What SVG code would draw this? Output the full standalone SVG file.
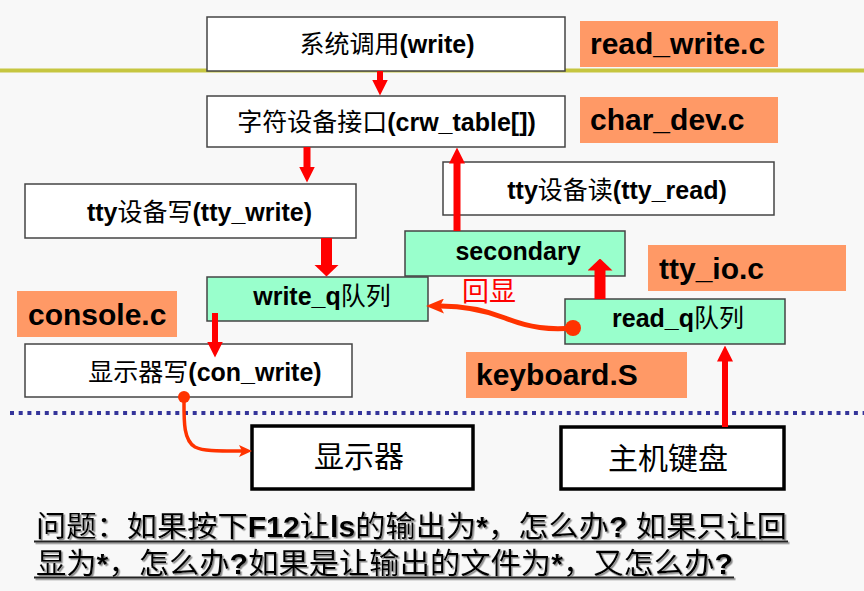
<svg xmlns="http://www.w3.org/2000/svg" width="864" height="591" viewBox="0 0 864 591">
  <style>
    .t { font-family: "Liberation Sans", "Noto Sans CJK SC", sans-serif; font-size: 25px; fill: #000; text-anchor: middle; }
    .b { font-weight: bold; }
    .big { font-size: 30px; }
    .file { font-family: "Liberation Sans", "Noto Sans CJK SC", sans-serif; font-size: 30px; font-weight: bold; fill: #000; }
    .box { fill: #fff; stroke: #444; stroke-width: 1.5; }
    .queue { fill: #99ffcc; stroke: #444; stroke-width: 1.5; }
    .dev { fill: #fff; stroke: #000; stroke-width: 3.5; }
    .tag { fill: #ff9966; }
    .red { stroke: #ff0000; fill: none; }
    .curve { stroke: #ff3300; fill: none; }
    .q { font-family: "Liberation Sans", "Noto Sans CJK SC", sans-serif; font-size: 29px; fill: #000; }
  </style>
  <defs>
    <marker id="head" markerUnits="userSpaceOnUse" viewBox="0 -8 16 16" markerWidth="16" markerHeight="16" refX="0.5" refY="0" orient="auto">
      <path d="M0,-8 L16,0 L0,8 z" fill="#ff0000"/>
    </marker>
    <marker id="head-wide" markerUnits="userSpaceOnUse" viewBox="0 -12.5 12 25" markerWidth="12" markerHeight="25" refX="0.5" refY="0" orient="auto">
      <path d="M0,-12.5 L12,0 L0,12.5 z" fill="#ff0000"/>
    </marker>
    <marker id="barb" markerUnits="userSpaceOnUse" viewBox="0 -7.5 18 15" markerWidth="18" markerHeight="15" refX="4" refY="0" orient="auto">
      <path d="M0,-7.5 L18,0 L0,7.5 L4,0 z" fill="#ff3300"/>
    </marker>
    <marker id="barb-small" markerUnits="userSpaceOnUse" viewBox="0 -6 13 12" markerWidth="13" markerHeight="12" refX="3" refY="0" orient="auto">
      <path d="M0,-6 L13,0 L0,6 L3,0 z" fill="#ff3300"/>
    </marker>
    <filter id="shadow" x="-5%" y="-30%" width="110%" height="160%">
      <feDropShadow dx="1.5" dy="1.5" stdDeviation="0.6" flood-color="#8a8a8a" flood-opacity="1"/>
    </filter>
  </defs>

  <!-- page background -->
  <rect width="864" height="591" fill="#f8f8f8"/>

  <!-- layer separators: user / kernel line and hardware boundary -->
  <line x1="0" y1="70.5" x2="864" y2="70.5" stroke="#c6c640" stroke-width="4"/>
  <line x1="10" y1="413" x2="864" y2="413" stroke="#35359a" stroke-width="4" stroke-dasharray="4 4.7"/>

  <!-- source file tags -->
  <g id="tag-read-write">
    <rect class="tag" x="580" y="21" width="198" height="46"/>
    <text class="file" x="590" y="54">read_write.c</text>
  </g>
  <g id="tag-char-dev">
    <rect class="tag" x="580" y="97" width="198" height="46"/>
    <text class="file" x="590" y="130">char_dev.c</text>
  </g>
  <g id="tag-tty-io">
    <rect class="tag" x="648" y="245" width="198" height="46"/>
    <text class="file" x="659" y="279">tty_io.c</text>
  </g>
  <g id="tag-console">
    <rect class="tag" x="17" y="291" width="160" height="46"/>
    <text class="file" x="28" y="325">console.c</text>
  </g>
  <g id="tag-keyboard">
    <rect class="tag" x="466" y="352" width="221" height="46"/>
    <text class="file" x="476" y="385">keyboard.S</text>
  </g>

  <!-- processing stages -->
  <g id="syscall">
    <rect class="box" x="207" y="17" width="358" height="54"/>
    <text class="t" x="387" y="53">系统调用<tspan class="b">(write)</tspan></text>
  </g>
  <g id="chrdev">
    <rect class="box" x="207" y="96" width="358" height="51"/>
    <text class="t" x="386.5" y="131">字符设备接口<tspan class="b">(crw_table[])</tspan></text>
  </g>
  <g id="tty-write">
    <rect class="box" x="25" y="184" width="331" height="54"/>
    <text class="t" x="199.5" y="221"><tspan class="b">tty</tspan>设备写<tspan class="b">(tty_write)</tspan></text>
  </g>
  <g id="tty-read">
    <rect class="box" x="443" y="162" width="331" height="53"/>
    <text class="t" x="617" y="199"><tspan class="b">tty</tspan>设备读<tspan class="b">(tty_read)</tspan></text>
  </g>
  <g id="secondary">
    <rect class="queue" x="405" y="231" width="220" height="45"/>
    <text class="t b" x="518" y="260">secondary</text>
  </g>
  <g id="write-q">
    <rect class="queue" x="207" y="277" width="221" height="44"/>
    <text class="t" x="322" y="305"><tspan class="b">write_q</tspan>队列</text>
  </g>
  <g id="read-q">
    <rect class="queue" x="565" y="299" width="220" height="45"/>
    <text class="t" x="678" y="327"><tspan class="b">read_q</tspan>队列</text>
  </g>
  <g id="con-write">
    <rect class="box" x="25" y="344" width="327" height="53"/>
    <text class="t" x="205" y="381">显示器写<tspan class="b">(con_write)</tspan></text>
  </g>

  <!-- devices -->
  <g id="display">
    <rect class="dev" x="252" y="426" width="221" height="63"/>
    <text class="t big" x="359" y="467">显示器</text>
  </g>
  <g id="keyboard">
    <rect class="dev" x="561" y="427" width="223" height="62"/>
    <text class="t big" x="668" y="469">主机键盘</text>
  </g>

  <!-- data flow -->
  <g id="connectors">
    <line class="red" x1="380" y1="71" x2="380" y2="80" stroke-width="6" marker-end="url(#head)"/>
    <line class="red" x1="307" y1="147" x2="307" y2="167" stroke-width="7" marker-end="url(#head)"/>
    <line class="red" x1="326.5" y1="238" x2="326.5" y2="265" stroke-width="11" marker-end="url(#head-wide)"/>
    <line class="red" x1="457" y1="231" x2="457" y2="163" stroke-width="7" marker-end="url(#head)"/>
    <line class="red" x1="600" y1="299" x2="600" y2="270" stroke-width="11" marker-end="url(#head-wide)"/>
    <line class="red" x1="215" y1="313" x2="215" y2="342" stroke-width="6" marker-end="url(#head)"/>
    <line class="red" x1="725" y1="427" x2="725" y2="361" stroke-width="6" marker-end="url(#head)"/>

    <!-- echo path: read_q back to write_q -->
    <path class="curve" d="M573,328 C550,330 530,328 505,318 C482,309 462,306 440,306" stroke-width="5" marker-end="url(#barb)"/>
    <circle cx="573" cy="328" r="8" fill="#ff3300"/>
    <text x="462" y="301" font-family="Noto Sans CJK SC, sans-serif" font-size="27" fill="#ff0000">回显</text>

    <!-- con_write to the screen -->
    <path class="curve" d="M184,397 C184,420 183,440 195,447 C203,451 215,451 242,451" stroke-width="3.5" marker-end="url(#barb-small)"/>
    <circle cx="184" cy="397" r="6" fill="#ff3300"/>
  </g>

  <!-- question below the diagram -->
  <g id="question" filter="url(#shadow)">
    <text class="q" x="36" y="537" textLength="751" lengthAdjust="spacingAndGlyphs">问题：如果按下<tspan class="b">F12</tspan>让<tspan class="b">ls</tspan>的输出为<tspan class="b">*</tspan>，怎么办<tspan class="b">? </tspan>如果只让回</text>
    <line x1="34" y1="541.5" x2="788" y2="541.5" stroke="#222" stroke-width="2"/>
    <text class="q" x="36" y="574" textLength="697" lengthAdjust="spacingAndGlyphs">显为<tspan class="b">*</tspan>，怎么办<tspan class="b">?</tspan>如果是让输出的文件为<tspan class="b">*</tspan>，又怎么办<tspan class="b">?</tspan></text>
    <line x1="34" y1="577.5" x2="734" y2="577.5" stroke="#222" stroke-width="2"/>
  </g>
</svg>
